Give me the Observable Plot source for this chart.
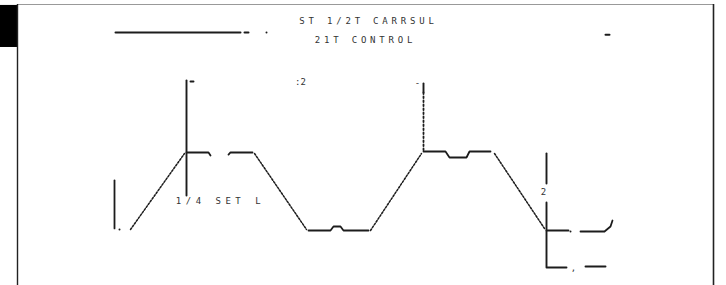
<!DOCTYPE html>
<html>
<head>
<meta charset="utf-8">
<script src="https://cdn.jsdelivr.net/npm/d3@7"></script>
<script src="https://cdn.jsdelivr.net/npm/@observablehq/plot@0.6"></script>
<style>
  html, body { margin: 0; padding: 0; background: #fff; }
  #chart svg { display: block; }
  #chart .spaced text { letter-spacing: 3.8px; }
  #chart .spaced2 text { letter-spacing: 4.5px; }
</style>
</head>
<body>
<div id="chart"></div>
<script>
// time axis in units (1 unit = one tenth of the time base), level axis: low = 0, high = 1
const solidSeg = [1,1, 2,2,2, 3,3,3, 4,4,4,4,4,4, 5,5,5,5,5,5, 6,6, 7,7,7,7];
const solidT   = [0,0, 7.2,9.4,9.6, 11.4,11.6,13.8, 19.4,21.6,21.9,22.6,22.9,25.4, 30.9,33.1,33.5,35.2,35.5,37.6, 43.2,45.4, 46.6,49.0,49.6,49.8];
const solidLv  = [0.641,0.026, 1,1,0.962, 0.974,1,1, 0,0,0.051,0.051,0,0, 1.013,1.013,0.936,0.936,1.013,1.013, 0,0, -0.013,-0.013,0.051,0.128];

const rampSeg = [1,1, 2,2, 3,3, 4,4];
const rampT   = [1.6,7.0, 14.0,19.2, 25.6,30.7, 38.0,43.0];
const rampLv  = [0.013,0.987, 0.987,0.013, 0,0.987, 0.987,0.026];

const dotT  = [0.5, 45.6];
const dotLv = [0.013, -0.013];

// marker lines
const markSeg = [1,1, 2,2, 3,3, 4,4,4, 5,5, 6,6];
const markT   = [7.2,7.2, 30.9,30.9, 43.2,43.2, 43.2,43.2,45.2, 47.1,49.1, 7.6,7.9];
const markLv  = [1.923,0.449, 1.885,1.769, 0.987,0.603, 0.359,-0.474,-0.474, -0.462,-0.462, 1.91,1.91];
const dashMarkT  = [30.9, 30.9];
const dashMarkLv = [1.769, 1.026];

// legend sample
const legSeg = [1,1, 2,2, 3,3];
const legT   = [0.1,12.6, 13.0,13.4, 49.1,49.5];
const legLv  = [2.538,2.538, 2.538,2.538, 2.51,2.51];
const legDotT = [15.2];
const legDotLv = [2.538];

// titles
const titleLines = ["ST 1/2T CARRSUL", "21T CONTROL"];
const titleT  = [25.4, 25.1];
const titleLv = [2.68, 2.44];

// annotations
const noteText = ["1/4 SET L"];
const noteT    = [10.6];
const noteLv   = [0.372];
const markText = [":2", "-", "2", ","];
const markTxtT = [18.6, 30.3, 42.9, 45.9];
const markTxtLv = [1.897, 1.885, 0.487, -0.487];

// frame / tab
const frameT  = [-9.7, 59.9];
const frameLv = [-0.705, 2.897];
const tabT  = [-11.4, -9.7];
const tabLv = [2.346, 2.885];

const zip = (seg, t, v) => t.map((d, i) => ({s: seg ? seg[i] : 0, t: d, v: v[i]}));

const ink = "#1c1c1c";

const plot = Plot.plot({
  width: 726,
  height: 285,
  marginLeft: 17,
  marginRight: 13,
  marginTop: 4,
  marginBottom: 0,
  x: {domain: frameT, axis: null},
  y: {domain: frameLv, axis: null},
  style: {background: "#fff", fontFamily: "DejaVu Sans, sans-serif"},
  marks: [
    Plot.rect([{x1: tabT[0], x2: tabT[1], y1: tabLv[0], y2: tabLv[1]}], {x1: "x1", x2: "x2", y1: "y1", y2: "y2", fill: "#000"}),
    Plot.ruleY([frameLv[1]], {stroke: "#999", strokeWidth: 1.2}),
    Plot.ruleX([frameT[0]], {stroke: "#222", strokeWidth: 1.4}),
    Plot.ruleX([frameT[1]], {stroke: "#222", strokeWidth: 1.6}),
    // waveform
    Plot.line(zip(solidSeg, solidT, solidLv), {x: "t", y: "v", z: "s", stroke: ink, strokeWidth: 1.8, curve: "linear"}),
    Plot.line(zip(rampSeg, rampT, rampLv), {x: "t", y: "v", z: "s", stroke: ink, strokeWidth: 1.5, strokeDasharray: "1.8,1.6"}),
    Plot.dot(zip(null, dotT, dotLv), {x: "t", y: "v", r: 1, fill: ink, stroke: null}),
    // markers
    Plot.line(zip(markSeg, markT, markLv), {x: "t", y: "v", z: "s", stroke: ink, strokeWidth: 1.9}),
    Plot.line(zip(null, dashMarkT, dashMarkLv), {x: "t", y: "v", stroke: ink, strokeWidth: 1.8, strokeDasharray: "1.6,2.4"}),
    // legend
    Plot.line(zip(legSeg, legT, legLv), {x: "t", y: "v", z: "s", stroke: ink, strokeWidth: 2}),
    Plot.dot(zip(null, legDotT, legDotLv), {x: "t", y: "v", r: 1, fill: ink, stroke: null}),
    // title text
    Plot.text(titleLines, {x: (d, i) => titleT[i], y: (d, i) => titleLv[i], text: d => d, fontSize: 9, fill: "#333", fontFamily: "DejaVu Sans Mono, monospace", className: "spaced"}),
    Plot.text(noteText, {x: (d, i) => noteT[i], y: (d, i) => noteLv[i], text: d => d, fontSize: 9, fill: "#333", fontFamily: "DejaVu Sans Mono, monospace", className: "spaced2"}),
    Plot.text(markText, {x: (d, i) => markTxtT[i], y: (d, i) => markTxtLv[i], text: d => d, fontSize: 9, fill: "#333", fontFamily: "DejaVu Sans Mono, monospace"})
  ]
});
document.getElementById("chart").appendChild(plot);
</script>
</body>
</html>
